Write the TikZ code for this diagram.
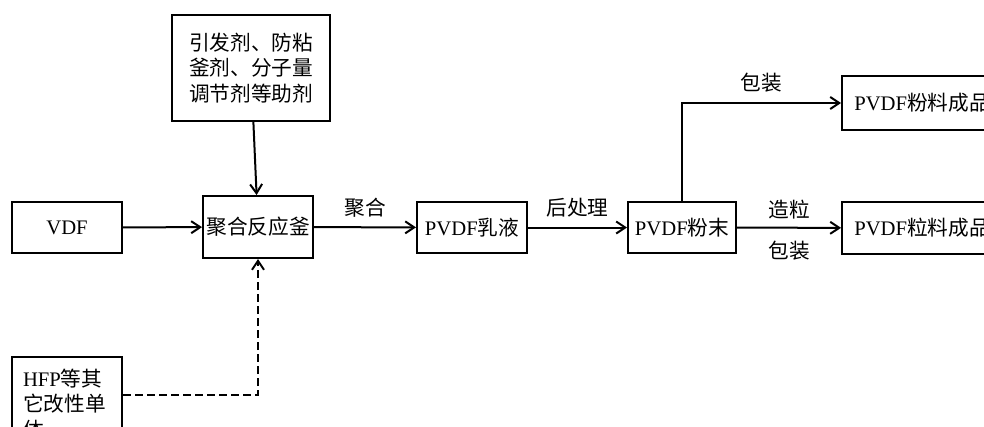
\documentclass[tikz,border=0pt]{standalone}
\usepackage{fontspec}
\setmainfont{Liberation Serif}
\newfontfamily\cjk{Noto Sans CJK SC}
\newcommand{\zh}[1]{{\cjk #1}}
\usetikzlibrary{arrows.meta}

\begin{document}
\begin{tikzpicture}[x=0.75pt, y=-0.75pt, line width=1.5pt,
        font=\fontsize{15.5}{19}\selectfont,
        main/.style = {draw, rectangle, inner sep=0pt, minimum width=82.5pt, minimum height=38.25pt},
        flow/.style = {-{Straight Barb[length=6.75pt,width=9pt]}},
        tag/.style = {inner sep=7pt}]
        \clip (0,0) rectangle (984,426);

        \node[main, minimum width=118.5pt, minimum height=79.5pt, align=left] (aid) at (251,68)
            {\zh{引发剂、防粘}\\\zh{釜剂、分子量}\\\zh{调节剂等助剂}};
        \node[main] (vdf) at (67,227.5) {VDF};
        \node[main, minimum height=46.5pt] (tank) at (258,227) {\zh{聚合反应釜}};
        \node[main] (latex) at (472,227.5) {PVDF\zh{乳液}};
        \node[main, minimum width=81pt] (powder) at (682,227.5) {PVDF\zh{粉末}};
        \node[main, anchor=west, minimum width=120pt, minimum height=40.5pt] (powprod) at (841,103) {PVDF\zh{粉料成品}};
        \node[main, anchor=west, minimum width=120pt, minimum height=39pt] (granprod) at (841,228) {PVDF\zh{粒料成品}};
        \node[main, minimum height=70.5pt, align=left, text width=66pt] (hfp) at (67,404)
            {HFP\zh{等其}\\\zh{它改性单}\\\zh{体}};

        \draw[flow] (vdf) -- (tank);
        \draw[flow] (aid) -- (tank);
        \draw[flow] (tank) -- (latex) node [tag, midway, above] {\zh{聚合}};
        \draw[flow] (latex) -- (powder) node [tag, midway, above] {\zh{后处理}};
        \draw[flow] (powder) -- (granprod) node [tag, midway, above, inner sep=6pt] {\zh{造粒}}
            node [tag, midway, below, inner sep=9pt] {\zh{包装}};
        \draw[flow] (powder.north) |- (powprod) node [tag, pos=0.75, above] {\zh{包装}};
        \draw[flow, dash pattern=on 6pt off 3pt] ([yshift=6.75pt]hfp.east) -| (tank.south);

    \end{tikzpicture}
\end{document}
